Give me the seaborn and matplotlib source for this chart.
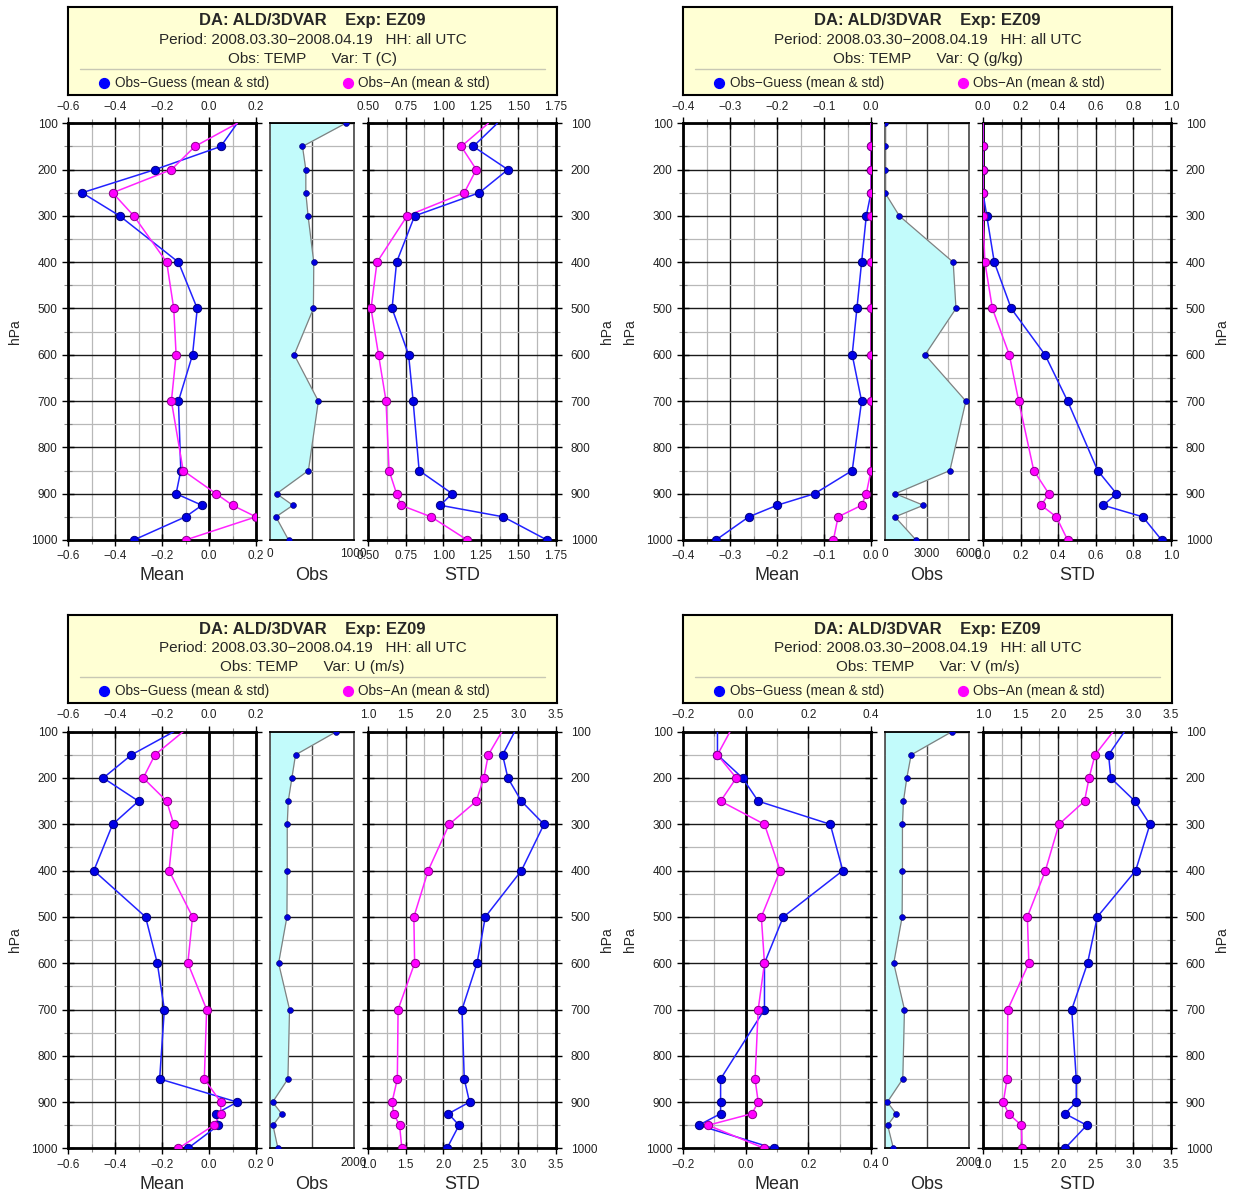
import numpy as np
import pandas as pd
import matplotlib
matplotlib.use("Agg")
import matplotlib.pyplot as plt
import seaborn as sns
from matplotlib.ticker import MultipleLocator, FixedLocator, FuncFormatter, FixedFormatter

# ---------------- data ----------------
levels = [100, 150, 200, 250, 300, 400, 500, 600, 700, 850, 900, 925, 950, 1000]

t_mean_guess = [0.12, 0.05, -0.23, -0.54, -0.38, -0.13, -0.05, -0.07, -0.13, -0.12, -0.14, -0.03, -0.10, -0.32]
t_mean_an    = [0.12, -0.06, -0.16, -0.41, -0.32, -0.18, -0.15, -0.14, -0.16, -0.11, 0.03, 0.10, 0.20, -0.10]
t_obs        = [905, 389, 429, 429, 456, 524, 520, 290, 579, 460, 79, 274, 71, 222]
t_std_guess  = [1.36, 1.20, 1.43, 1.24, 0.81, 0.69, 0.66, 0.77, 0.80, 0.84, 1.06, 0.98, 1.40, 1.69]
t_std_an     = [1.30, 1.12, 1.22, 1.14, 0.76, 0.56, 0.52, 0.57, 0.62, 0.64, 0.69, 0.72, 0.92, 1.16]

q_mean_guess = [0.0, 0.0, 0.0, 0.0, -0.01, -0.02, -0.03, -0.04, -0.02, -0.04, -0.12, -0.20, -0.26, -0.33]
q_mean_an    = [0.0, 0.0, 0.0, 0.0, 0.0, 0.0, 0.0, 0.0, 0.0, 0.0, -0.01, -0.02, -0.07, -0.08]
q_obs        = [0, 0, 0, 0, 1030, 4900, 5100, 2880, 5810, 4660, 745, 2760, 720, 2230]
q_std_guess  = [0.0, 0.0, 0.0, 0.0, 0.02, 0.06, 0.15, 0.33, 0.45, 0.61, 0.71, 0.64, 0.85, 0.95]
q_std_an     = [0.0, 0.0, 0.0, 0.0, 0.0, 0.01, 0.05, 0.14, 0.19, 0.27, 0.35, 0.31, 0.39, 0.45]

u_mean_guess = [-0.15, -0.33, -0.45, -0.30, -0.41, -0.49, -0.27, -0.22, -0.19, -0.21, 0.12, 0.03, 0.04, -0.09]
u_mean_an    = [-0.11, -0.23, -0.28, -0.18, -0.15, -0.17, -0.07, -0.09, -0.01, -0.02, 0.05, 0.05, 0.02, -0.13]
u_obs        = [1587, 611, 524, 437, 413, 413, 405, 206, 468, 429, 63, 278, 71, 190]
u_std_guess  = [2.95, 2.79, 2.86, 3.04, 3.34, 3.04, 2.56, 2.45, 2.25, 2.28, 2.35, 2.07, 2.21, 2.05]
u_std_an     = [2.78, 2.60, 2.54, 2.44, 2.08, 1.80, 1.61, 1.62, 1.40, 1.39, 1.32, 1.34, 1.42, 1.45]

v_mean_guess = [-0.09, -0.09, -0.01, 0.04, 0.27, 0.31, 0.12, 0.06, 0.06, -0.08, -0.08, -0.08, -0.15, 0.09]
v_mean_an    = [-0.05, -0.09, -0.03, -0.08, 0.06, 0.11, 0.05, 0.06, 0.04, 0.03, 0.04, 0.02, -0.12, 0.06]
v_obs        = [1600, 626, 522, 442, 418, 418, 410, 209, 466, 426, 56, 265, 64, 201]
v_std_guess  = [2.88, 2.67, 2.70, 3.02, 3.22, 3.03, 2.52, 2.39, 2.18, 2.24, 2.24, 2.09, 2.38, 2.09]
v_std_an     = [2.73, 2.49, 2.41, 2.35, 2.01, 1.83, 1.59, 1.61, 1.33, 1.32, 1.27, 1.34, 1.51, 1.52]

title_line1 = "DA: ALD/3DVAR    Exp: EZ09"
title_line2 = "Period: 2008.03.30\u22122008.04.19   HH: all UTC"
obs_type = "TEMP"
var_labels = ["T (C)", "Q (g/kg)", "U (m/s)", "V (m/s)"]
legend_labels = ["Obs\u2212Guess (mean & std)", "Obs\u2212An (mean & std)"]
panel_titles = ["Mean", "Obs", "STD"]

# ---------------- style ----------------
sns.set_theme(style="white")
plt.rcParams['font.family'] = ['Liberation Sans', 'DejaVu Sans']
plt.rcParams['axes.unicode_minus'] = True

W, H = 1237, 1196
fig = plt.figure(figsize=(W / 100, H / 100), dpi=100)

BLUE = '#2222ff'
BLUE_M = '#0000e6'
MAG = '#ff22ff'
MAG_M = '#ff00ff'
MAG_E = '#8a008a'
CYAN = '#c2fbfb'
BOX = '#ffffd4'


def rect(x0, y0, x1, y1):
    return [x0 / W, 1 - y1 / H, (x1 - x0) / W, (y1 - y0) / H]


def fmt_factory(dec):
    def f(v, pos):
        if abs(v) < 1e-9:
            v = 0.0
        return f"{v:.{dec}f}".replace('-', '\u2212')
    return FuncFormatter(f)


def style_common(ax):
    ax.set_ylim(1000, 100)
    ax.yaxis.set_major_locator(MultipleLocator(100))
    ax.yaxis.set_minor_locator(MultipleLocator(50))
    ax.set_axisbelow(True)
    ax.grid(which='major', color='#1a1a1a', lw=1.0)
    ax.grid(which='minor', color='#b8b8b8', lw=0.9)
    ax.set_xlabel('')
    ax.set_ylabel('')
    ax.set_facecolor('white')


def draw_profile(ax, vals, line_c, face_c, edge_c):
    df = pd.DataFrame({'x': vals, 'p': levels})
    sns.lineplot(data=df, x='x', y='p', sort=False, estimator=None, orient='y',
                 color=line_c, lw=1.1, ax=ax, legend=False, zorder=3)
    sns.scatterplot(data=df.iloc[1:], x='x', y='p', color=face_c, edgecolor=edge_c,
                    s=36, linewidth=0.7, ax=ax, legend=False, zorder=4)


quadrants = [
    dict(ox=0, oy=0, var=var_labels[0], mean=(t_mean_guess, t_mean_an), obs=t_obs,
         std=(t_std_guess, t_std_an), mlim=(-0.6, 0.2), mmaj=0.2, mmin=0.1, mdec=1,
         slim=(0.5, 1.75), smaj=0.25, smin=0.125, sdec=2,
         oticks=[0, 500, 1000], olabels=['0', '', '1000'], ominor=[], olim=(0, 1000)),
    dict(ox=615, oy=0, var=var_labels[1], mean=(q_mean_guess, q_mean_an), obs=q_obs,
         std=(q_std_guess, q_std_an), mlim=(-0.4, 0.0), mmaj=0.1, mmin=0.05, mdec=1,
         slim=(0.0, 1.0), smaj=0.2, smin=0.1, sdec=1,
         oticks=[0, 3000, 6000], olabels=['0', '3000', '6000'], ominor=[1500, 4500], olim=(0, 6000)),
    dict(ox=0, oy=608.4, var=var_labels[2], mean=(u_mean_guess, u_mean_an), obs=u_obs,
         std=(u_std_guess, u_std_an), mlim=(-0.6, 0.2), mmaj=0.2, mmin=0.1, mdec=1,
         slim=(1.0, 3.5), smaj=0.5, smin=0.25, sdec=1,
         oticks=[0, 1000, 2000], olabels=['0', '', '2000'], ominor=[], olim=(0, 2000)),
    dict(ox=615, oy=608.4, var=var_labels[3], mean=(v_mean_guess, v_mean_an), obs=v_obs,
         std=(v_std_guess, v_std_an), mlim=(-0.2, 0.4), mmaj=0.2, mmin=0.1, mdec=1,
         slim=(1.0, 3.5), smaj=0.5, smin=0.25, sdec=1,
         oticks=[0, 1000, 2000], olabels=['0', '', '2000'], ominor=[], olim=(0, 2000)),
]

TICK_FS = 8.5

for q in quadrants:
    ox, oy = q['ox'], q['oy']
    top, bot = 123.3 + oy, 540.0 + oy

    # ---- title / legend box ----
    axb = fig.add_axes(rect(68 + ox, 7 + oy, 557 + ox, 95 + oy))
    axb.set_xlim(0, 1)
    axb.set_ylim(0, 1)
    axb.set_facecolor(BOX)
    axb.set_xticks([])
    axb.set_yticks([])
    for s in axb.spines.values():
        s.set_color('black')
        s.set_linewidth(1.5)
    axb.text(0.5, 0.845, title_line1, ha='center', va='center', fontsize=12, fontweight='bold')
    axb.text(0.5, 0.625, title_line2, ha='center', va='center', fontsize=11)
    axb.text(0.5, 0.41, f"Obs: {obs_type}      Var: {q['var']}", ha='center', va='center', fontsize=11)
    axb.plot([0.025, 0.975], [0.295, 0.295], color='#c8c8b4', lw=1.0)
    axb.scatter([0.074], [0.14], s=50, color='#0000ff', zorder=3)
    axb.text(0.096, 0.14, legend_labels[0], ha='left', va='center', fontsize=9.8)
    axb.scatter([0.573], [0.14], s=50, color='#ff00ff', zorder=3)
    axb.text(0.593, 0.14, legend_labels[1], ha='left', va='center', fontsize=9.8)

    # ---- mean panel ----
    axm = fig.add_axes(rect(68 + ox, top, 256 + ox, bot))
    axm.axvline(0, color='black', lw=2.0, zorder=2)
    draw_profile(axm, q['mean'][0], BLUE, BLUE_M, '#000080')
    draw_profile(axm, q['mean'][1], MAG, MAG_M, MAG_E)
    style_common(axm)
    axm.set_xlim(*q['mlim'])
    axm.xaxis.set_major_locator(MultipleLocator(q['mmaj']))
    axm.xaxis.set_minor_locator(MultipleLocator(q['mmin']))
    axm.xaxis.set_major_formatter(fmt_factory(q['mdec']))

    # ---- obs panel ----
    axo = fig.add_axes(rect(270 + ox, top, 353.5 + ox, bot))
    axo.fill_betweenx(levels, 0, q['obs'], color=CYAN, lw=0, zorder=1)
    sns.lineplot(x=q['obs'], y=levels, sort=False, estimator=None, orient='y',
                 color='#808080', lw=0.9, ax=axo, legend=False, zorder=3)
    sns.scatterplot(x=q['obs'], y=levels, color='#0000dd', edgecolor='#000066',
                    s=18, linewidth=0.4, ax=axo, legend=False, zorder=4)
    style_common(axo)
    axo.set_xlim(*q['olim'])
    axo.xaxis.set_major_locator(FixedLocator(q['oticks']))
    axo.xaxis.set_major_formatter(FixedFormatter(q['olabels']))
    axo.xaxis.set_minor_locator(FixedLocator(q['ominor']))
    axo.grid(which='major', axis='x', color='#444444', lw=1.0)

    # ---- std panel ----
    axs = fig.add_axes(rect(368 + ox, top, 556 + ox, bot))
    draw_profile(axs, q['std'][0], BLUE, BLUE_M, '#000080')
    draw_profile(axs, q['std'][1], MAG, MAG_M, MAG_E)
    style_common(axs)
    axs.set_xlim(*q['slim'])
    axs.xaxis.set_major_locator(MultipleLocator(q['smaj']))
    axs.xaxis.set_minor_locator(MultipleLocator(q['smin']))
    axs.xaxis.set_major_formatter(fmt_factory(q['sdec']))

    for ax in (axm, axs):
        for s in ax.spines.values():
            s.set_color('black')
            s.set_linewidth(2.0)
        ax.tick_params(which='major', direction='inout', length=9, width=1.0, color='black',
                       top=True, bottom=True, left=True, right=True,
                       labeltop=True, labelbottom=True, labelsize=TICK_FS, pad=3, labelcolor='#222222')
        ax.tick_params(which='minor', direction='inout', length=6, width=0.8, color='#888888',
                       top=True, bottom=True, left=True, right=True)
    axm.tick_params(axis='y', labelleft=True, labelright=False, pad=3)
    axs.tick_params(axis='y', labelleft=False, labelright=True, pad=6)

    for s in axo.spines.values():
        s.set_linewidth(1.3)
    axo.spines['top'].set_color('black')
    axo.spines['bottom'].set_color('black')
    axo.spines['left'].set_color('#555555')
    axo.spines['right'].set_color('#555555')
    axo.tick_params(which='both', length=0, labelleft=False, labelright=False,
                    labeltop=False, labelbottom=True, labelsize=TICK_FS, pad=6, labelcolor='#222222')

    # ---- panel labels ----
    ly = 1 - (576 + oy) / H
    fig.text((162 + ox) / W, ly, panel_titles[0], ha='center', va='center', fontsize=13)
    fig.text((311.5 + ox) / W, ly, panel_titles[1], ha='center', va='center', fontsize=13)
    fig.text((462 + ox) / W, ly, panel_titles[2], ha='center', va='center', fontsize=13)
    hy = 1 - (331.5 + oy) / H
    fig.text((15 + ox) / W, hy, 'hPa', rotation=90, ha='center', va='center', fontsize=10)
    fig.text((607 + ox) / W, hy, 'hPa', rotation=90, ha='center', va='center', fontsize=10)

fig.savefig('out.png', dpi=100, facecolor='white')
